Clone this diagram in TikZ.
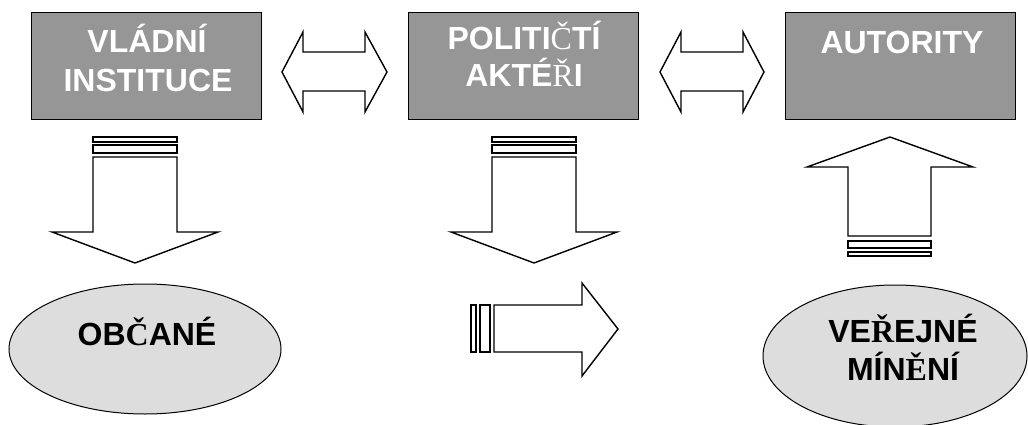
\documentclass[tikz,border=0pt]{standalone}
\usepackage{fontspec}
\setmainfont{Liberation Sans}
\newfontfamily\fbserif{Liberation Serif}
\usetikzlibrary{shapes.geometric}
\definecolor{boxgray}{RGB}{150,150,150}
\definecolor{ellgray}{RGB}{221,221,221}
\begin{document}
\begin{tikzpicture}[x=1pt,y=-1pt,
  box/.style={draw=black, line width=1pt, fill=boxgray, minimum width=230pt, minimum height=107pt, inner sep=0pt},
  boxtxt/.style={text=white, font=\fontsize{32}{37}\bfseries\selectfont, anchor=base, inner sep=0pt},
  elltxt/.style={text=black, font=\fontsize{32}{37}\bfseries\selectfont, anchor=base, inner sep=0pt},
  ell/.style={draw=black, line width=1pt, fill=ellgray, ellipse, inner sep=0pt},
  blk/.style={draw=black, line width=1.4pt, fill=white, line join=miter}]
\useasboundingbox (0,0) rectangle (1028,425);
% boxes
\node[box] (vi) at (146,66.5) {};
\node[box] (pa) at (523,66.5) {};
\node[box] (au) at (900.5,66.5) {};
\node[boxtxt] (vi1) at (147,53) {VLÁDNÍ};
\node[boxtxt] (vi2) at (148,92) {INSTITUCE};
\node[boxtxt] (pa1) at (524,50) {POLITI{\fbserif\mdseries Č}TÍ};
\node[boxtxt] (pa2) at (524,87) {AKTÉ{\fbserif\mdseries Ř}I};
\node[boxtxt] (au1) at (902,54) {AUTORITY};
% ellipses
\node[ell, minimum width=272pt, minimum height=130pt] (ob) at (145,349) {};
\node[ell, minimum width=264pt, minimum height=142pt] (vm) at (895,356) {};
\node[elltxt] (ob1) at (147,345) {OB{\fbserif Č}ANÉ};
\node[elltxt] (vm1) at (903,342) {VE{\fbserif Ř}EJNÉ};
\node[elltxt] (vm2) at (903,380) {MÍN{\fbserif Ě}NÍ};
% double arrows
\draw[blk] (282,72) -- (303,32) -- (303,52) -- (365,52) -- (365,32) -- (387,72) -- (365,112) -- (365,91) -- (303,91) -- (303,112) -- cycle;
\draw[blk] (660,72) -- (681,32) -- (681,52) -- (743,52) -- (743,32) -- (764,72) -- (743,112) -- (743,91) -- (681,91) -- (681,112) -- cycle;
% down arrow 1
\draw[blk] (93,137) rectangle (177,142);
\draw[blk] (93,145) rectangle (177,153);
\draw[blk] (93,157) -- (177,157) -- (177,232) -- (218,232) -- (135,263) -- (52,232) -- (93,232) -- cycle;
% down arrow 2
\draw[blk] (492,137) rectangle (576,142);
\draw[blk] (492,145) rectangle (576,153);
\draw[blk] (492,157) -- (576,157) -- (576,232) -- (617,232) -- (534,263) -- (451,232) -- (492,232) -- cycle;
% right arrow
\draw[blk] (471,305) rectangle (476,352);
\draw[blk] (480,305) rectangle (490,352);
\draw[blk] (494,305) -- (582,305) -- (582,283) -- (618,329) -- (582,376) -- (582,352) -- (494,352) -- cycle;
% up arrow
\draw[blk] (890,137) -- (973,167) -- (931,167) -- (931,236) -- (848,236) -- (848,167) -- (807,167) -- cycle;
\draw[blk] (848,241) rectangle (931,248);
\draw[blk] (848,252) rectangle (931,256);
\end{tikzpicture}
\end{document}
